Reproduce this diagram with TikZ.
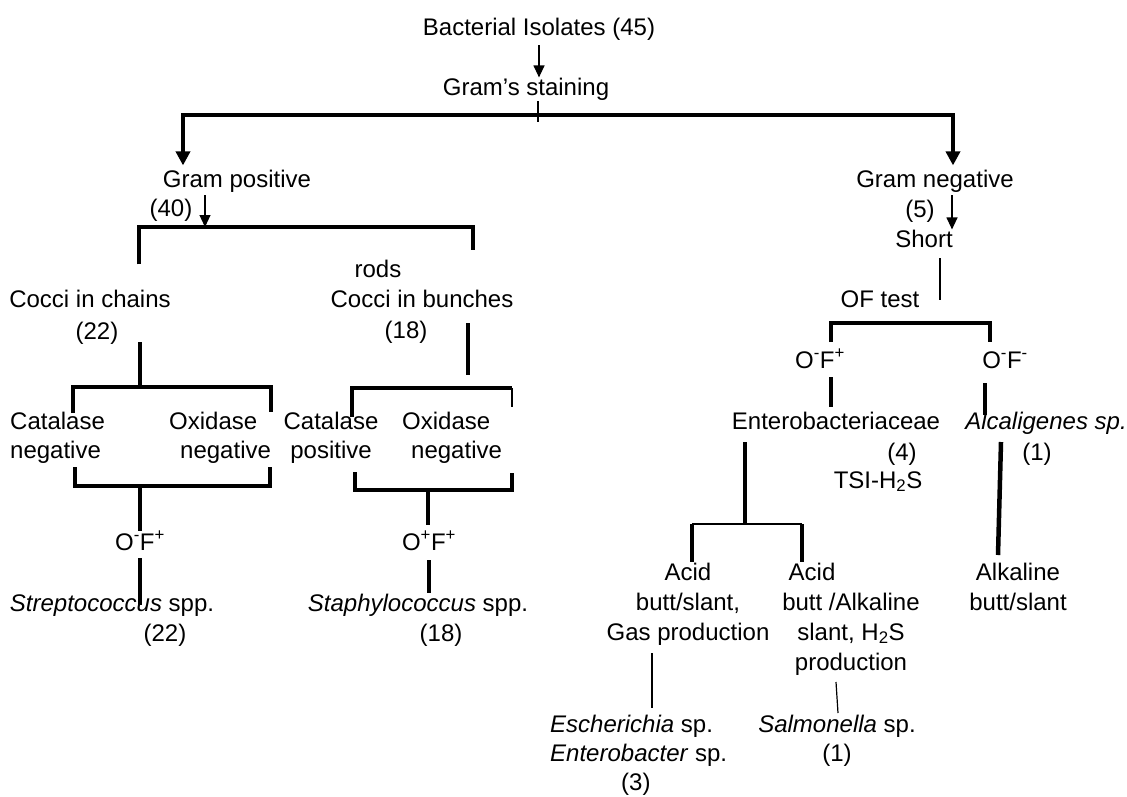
\documentclass[tikz,border=0pt]{standalone}
\usepackage{fontspec}
\setmainfont{Liberation Sans}
\usetikzlibrary{arrows.meta}

\begin{document}
\begin{tikzpicture}[x=1pt, y=-1pt,
		every node/.style={inner sep=0pt, anchor=base, font=\fontsize{24}{29}\selectfont},
		wide/.style={font=\fontsize{24}{30}\selectfont},
		heavyline/.style={line width=4.5pt},
		midline/.style={line width=2.5pt},
		lightline/.style={line width=1.2pt},
		bigarrow/.style={line width=4pt, -{Triangle[width=14pt, length=14pt]}},
		smallarrow/.style={lightline, -{Triangle[width=11pt, length=12pt]}}]
		\useasboundingbox (0,0) rectangle (1127,796);
		%%%%%%%%%%%%%
		\node (isol) at (539,35) {Bacterial Isolates (45)};
		\node (stain) at (526,95) {Gram's staining};
		\node (gpos) at (237,187) {Gram positive};
		\node (n40) at (171,216) {(40)};
		\node (gneg) at (935,187) {Gram negative};
		\node (n5) at (920,217) {(5)};
		\node (short) at (924,247) {Short};
		\node (oft) at (880,307) {OF test};
		%%%%%%%%%%%%%
		\node (chains) at (90,307) {Cocci in chains};
		\node (n22a) at (97,339) {(22)};
		\node (rods) at (378,277) {rods};
		\node (bunch) at (422,307) {Cocci in bunches};
		\node (n18a) at (406,338) {(18)};
		\node[align=left, anchor=base west] (catneg) at (10,458) {Catalase\\negative};
		\node[align=left, anchor=base west] (oxnega) at (169,458) {Oxidase\\\hspace*{11pt}negative};
		\node[align=center] (catpos) at (331,458) {Catalase\\positive};
		\node[align=left, anchor=base west] (oxnegb) at (402,458) {Oxidase\\\hspace*{9pt}negative};
		\node (ofa) at (140,550) {O\textsuperscript{-}F\textsuperscript{+}};
		\node (ofb) at (429,550) {O\textsuperscript{+}F\textsuperscript{+}};
		\node (strep) at (112,611) {\textit{Streptococcus} spp.};
		\node (n22b) at (165,641) {(22)};
		\node (staph) at (418,611) {\textit{Staphylococcus} spp.};
		\node (n18b) at (441,641) {(18)};
		%%%%%%%%%%%%%
		\node (ofp) at (820,368) {O\textsuperscript{-}F\textsuperscript{+}};
		\node (ofm) at (1005,368) {O\textsuperscript{-}F\textsuperscript{-}};
		\node (entero) at (836,429) {Enterobacteriaceae};
		\node (n4) at (902,460) {(4)};
		\node (tsi) at (878,488) {TSI-H\textsubscript{2}S};
		\node (alcal) at (1046,429) {\textit{Alcaligenes sp.}};
		\node (n1a) at (1037,460) {(1)};
		\node[wide, align=center] (gas) at (688,640) {Acid\\butt/slant,\\Gas production};
		\node[wide, align=center] (hs) at (851,670) {Acid\hspace*{78pt}\\butt /Alkaline\hspace*{22pt}\\slant, H\textsubscript{2}S\\production};
		\node[wide, align=center] (alkb) at (1018,610) {Alkaline\\butt/slant};
		\node[align=left, anchor=base west] (esch) at (550,790) {\textit{Escherichia} sp.\\\textit{Enterobacter} sp.\\\hspace*{71pt}(3)};
		\node[align=center] (salm) at (837,761) {\textit{Salmonella} sp.\\(1)};
		%%%%%%%%%%%%%
		\coordinate (split) at (538,115);
		\coordinate (tl) at (183,115); \coordinate (tr) at (953,115);
		\draw[smallarrow] (isol.south) ++(0,5) -- (isol.south |- stain.north);
		\draw[lightline] (stain.south -| split) ++(0,1) -- ([yshift=-7pt]split);
		\draw[bigarrow] (split) -- (tl) -- ([yshift=4pt]tl |- gpos.north);
		\draw[bigarrow] (split) -- (tr) -- ([yshift=4pt]tr |- gneg.north);
		%%%%%%%%%%%%%
		\coordinate (pm) at (205,227); \coordinate (pl) at (139,227); \coordinate (pr) at (473,227);
		\draw[smallarrow] (gpos.south -| pm) ++(0,3) -- (pm);
		\draw[heavyline] (pl |- chains.north) ++(0,-25) -- (pl) -- (pr) -- ++(0,23);
		%%%%%%%%%%%%%
		\coordinate (ca) at (140,387); \coordinate (cal) at (73,387); \coordinate (car) at (271,387);
		\draw[heavyline] (140,342) -- (ca);
		\draw[heavyline] (73,413) -- (cal) -- (car) -- (271,412);
		\coordinate (cb) at (140,486);
		\draw[heavyline] (75,467) -- (75,486) -- (270,486) -- (270,467);
		\draw[heavyline] (cb) -- (ofa.north) ++(0,-6);
		\draw[heavyline] (ofa.south) ++(0,8) -- (140,605);
		%%%%%%%%%%%%%
		\coordinate (ba) at (468,388); \coordinate (bal) at (352,388); \coordinate (bar) at (512,388);
		\draw[heavyline] (468,323) -- (468,375);
		\draw[heavyline] (352,417) -- (bal) -- (bar);
		\draw[line width=2pt] (bar) -- (512,407);
		\coordinate (bb) at (428,490);
		\draw[heavyline] (355,472) -- (355,490) -- (512,490) -- (512,473);
		\draw[heavyline] (bb) -- (428,525);
		\draw[heavyline] (429,560) -- (429,593);
		%%%%%%%%%%%%%
		\coordinate (na) at (952,0);
		\draw[smallarrow] (gneg.south -| na) ++(0,3) -- (short.north -| na);
		\draw[lightline] (940,258) -- (940,300);
		\draw[line width=4pt] (831,342) -- (831,323) -- (990,323) -- (990,342);
		\draw[heavyline] (831,377) -- (831,407);
		\draw[heavyline] (985,383) -- (985,415);
		\draw[line width=4pt] (745,442) -- (745,525);
		\coordinate (el) at (692,524); \coordinate (er) at (802,524);
		\draw[midline] (el) -- (er);
		\draw[heavyline] (el) -- (692,562);
		\draw[heavyline] (er) -- (802,562);
		\draw[lightline] (652,653) -- (652,708);
		\draw[lightline] (836,682) -- (838,713);
		\draw[heavyline] (1001,442) -- (998,555);
\end{tikzpicture}
\end{document}
